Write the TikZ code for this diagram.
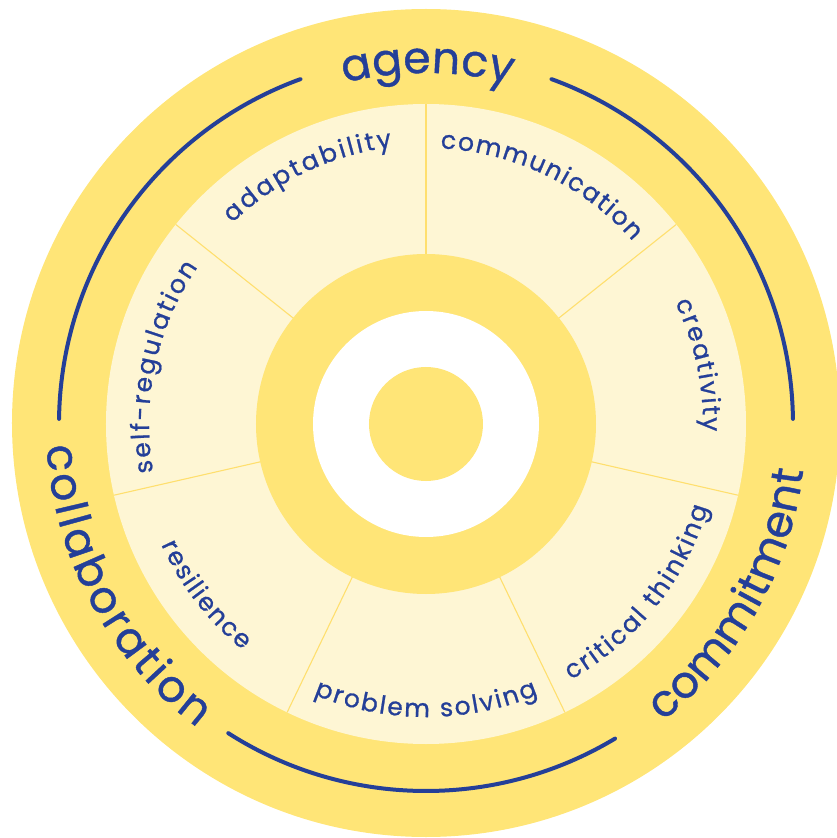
\documentclass[tikz,border=0pt]{standalone}
\usepackage{fontspec}
\setmainfont{Poppins}[FakeBold=0.9]
\usetikzlibrary{decorations.text}
\definecolor{ringyellow}{HTML}{FFE577}
\definecolor{paleyellow}{HTML}{FEF6D4}
\definecolor{divline}{HTML}{FFDF6E}
\definecolor{tblue}{HTML}{243F98}
\tikzset{
  bigword/.style={decorate, decoration={text along path, text color=tblue,
      text align={fit to path}, text={|\fontsize{44}{44}\selectfont|#1}}},
  smallword/.style={decorate, decoration={text along path, text color=tblue,
      text align={fit to path}, text={|\fontsize{25}{25}\selectfont|#1}}},
  bluearc/.style={draw=tblue, line width=4pt, line cap=round},
  divider/.style={draw=divline, line width=1.1pt}
}
\begin{document}
\begin{tikzpicture}[x=1pt,y=1pt]
\useasboundingbox (-426,-414) rectangle (410,424);
% discs
\fill[ringyellow] (0,1) circle[radius=414];
\fill[paleyellow] (0,0) circle[radius=320];
\foreach \a in {90,38.571,-12.857,-64.286,-115.714,-167.143,141.429}
  \draw[divider] (\a:165) -- (\a:320);
\fill[ringyellow] (0,0) circle[radius=170];
\fill[white] (0,0) circle[radius=113];
\fill[ringyellow] (0,0) circle[radius=57];
% blue arcs
\draw[bluearc] (110:367) arc[start angle=110, end angle=179.2, radius=367];
\draw[bluearc] (70:367) arc[start angle=70, end angle=0.8, radius=367];
\draw[bluearc] (237.4:367) arc[start angle=237.4, end angle=301, radius=367];
% outer words
\path[bigword=agency] (103.5:351) arc[start angle=103.5, end angle=76, radius=351];
\path[bigword=collaboration] (183.3:380) arc[start angle=183.3, end angle=233, radius=380];
\path[bigword=commitment] (-51.5:380) arc[start angle=-51.5, end angle=-7, radius=380];
% inner words
\path[smallword=adaptability] (134:279) arc[start angle=134, end angle=97, radius=279];
\path[smallword=communication] (87:276) arc[start angle=87, end angle=41.5, radius=276];
\path[smallword=creativity] (26:277) arc[start angle=26, end angle=-1.5, radius=277];
\path[smallword=critical thinking] (-60.5:294) arc[start angle=-60.5, end angle=-16.5, radius=294];
\path[smallword=problem solving] (-112.5:293) arc[start angle=-112.5, end angle=-67.5, radius=293];
\path[smallword=resilience] (204.5:291) arc[start angle=204.5, end angle=231, radius=291];
\path[smallword=self-regulation] (190:277) arc[start angle=190, end angle=145.5, radius=277];
\end{tikzpicture}
\end{document}
